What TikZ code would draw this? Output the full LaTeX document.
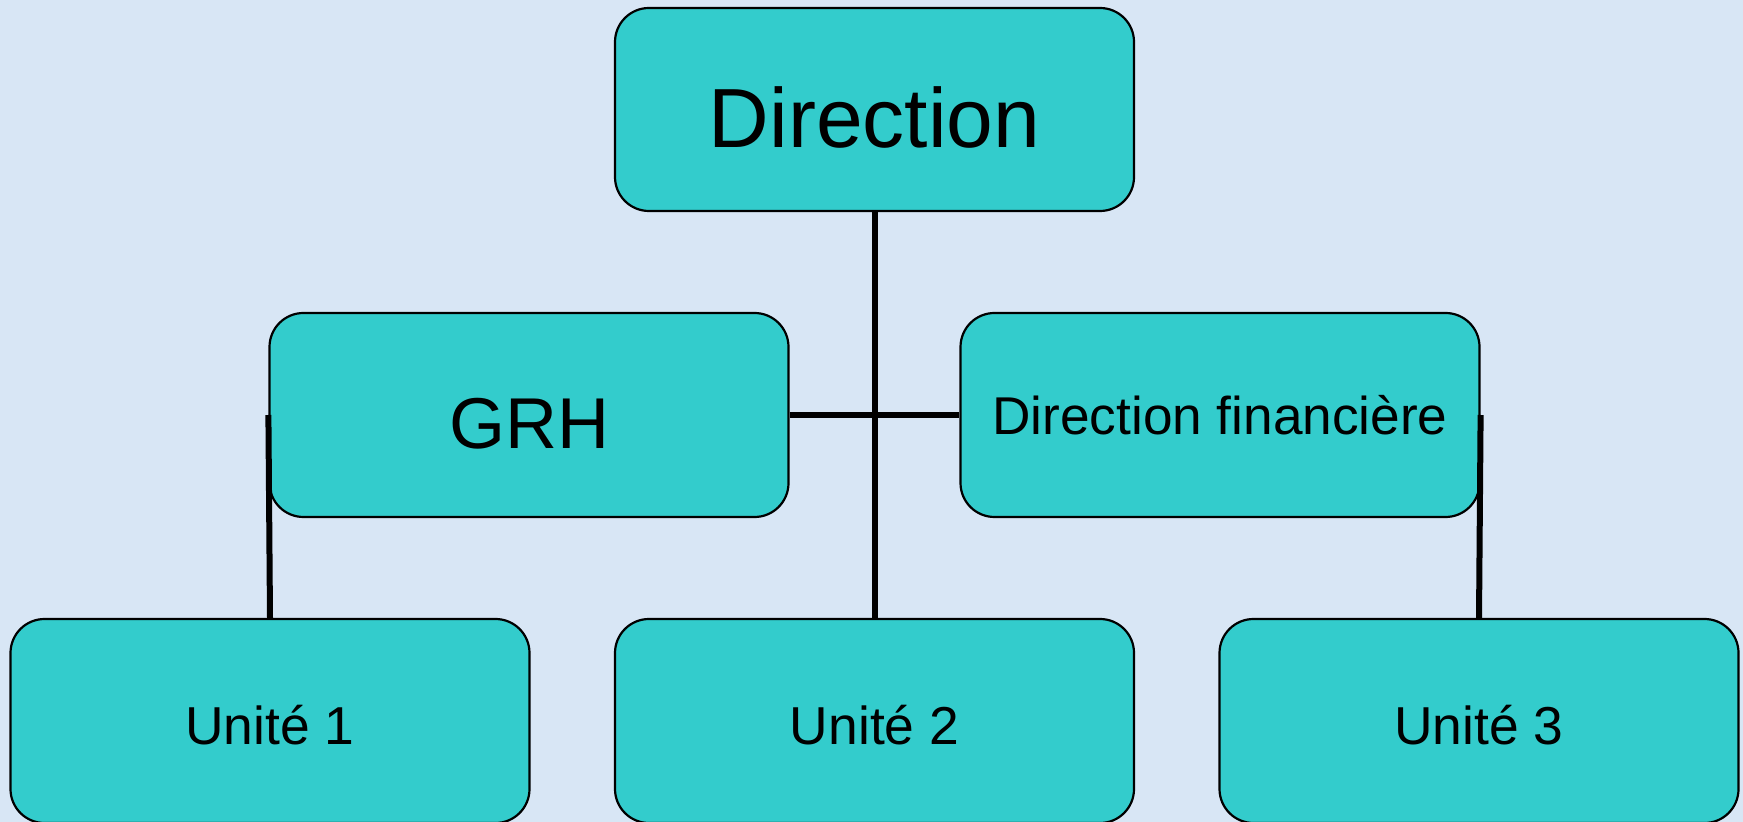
\documentclass[tikz,border=0pt]{standalone}
\usepackage{fontspec}
\setmainfont{Liberation Sans}
\definecolor{bgblue}{RGB}{216,230,245}
\definecolor{boxcyan}{RGB}{51,204,204}
\tikzset{
  orgbox/.style={draw=black, line width=1.1pt, fill=boxcyan, rounded corners=17pt,
    minimum width=259.5pt, minimum height=102pt, inner sep=0pt, align=center},
  unitbox/.style={orgbox, font=\fontsize{26.7pt}{32pt}\selectfont, text height=23pt, text depth=0pt},
  link/.style={draw=black, line width=3pt}
}
\begin{document}
\begin{tikzpicture}[x=0.5pt,y=-0.5pt]
\fill[bgblue] (0,0) rectangle (1743,822);
\useasboundingbox (0,0) rectangle (1743,822);
\node[orgbox, minimum height=101.5pt, font=\fontsize{42pt}{48pt}\selectfont, text height=38pt, text depth=0pt] (dir) at (874.5,109.5) {Direction};
\node[orgbox, font=\fontsize{36pt}{42pt}\selectfont, text height=33.5pt, text depth=0pt] (grh) at (529,415) {GRH};
\node[orgbox, font=\fontsize{26.6pt}{32pt}\selectfont] (fin) at (1220,415) {Direction financière};
\node[unitbox] (u1) at (270,721) {Unité 1};
\node[unitbox] (u2) at (874.5,721) {Unité 2};
\node[unitbox] (u3) at (1479,721) {Unité 3};
\draw[link] (dir.south) -- (u2.north);
\draw[link] (grh.east) -- (fin.west);
\draw[link] (grh.west) -- (u1.north);
\draw[link] (fin.east) -- (u3.north);
\end{tikzpicture}
\end{document}
